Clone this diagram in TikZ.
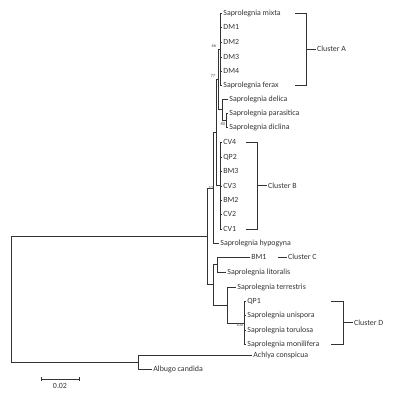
\documentclass[tikz,border=0pt]{standalone}
\usepackage{fontspec}
\setmainfont{Carlito}
\usetikzlibrary{calc}
\definecolor{ink}{HTML}{333333}
\definecolor{txt}{HTML}{333333}
\definecolor{boot}{HTML}{555555}
\tikzset{
  branch/.style={ink,line width=0.9pt},
  leaf/.style={txt,anchor=west,inner sep=1.2pt,font=\fontsize{7.9}{9}\selectfont},
  bootval/.style={boot,anchor=east,inner sep=0.5pt,font=\fontsize{4.6}{5}\selectfont},
  cltag/.style={txt,anchor=west,inner sep=1pt,font=\fontsize{7.9}{9}\selectfont},
}
% bracket round a cluster: top y, bottom y, left x, right x, tag node name, label
\newcommand{\clbracket}[6]{%
  \draw[branch] (#3,#1) -- (#4,#1) -- (#4,#2) -- (#3,#2);
  \node[cltag] (#5) at ($(#4,#1)!0.5!(#4,#2)+(10,0)$) {#6};
  \draw[branch] ($(#4,#1)!0.5!(#4,#2)$) -- (#5.west);}

\begin{document}
\begin{tikzpicture}[x=1pt,y=-1pt]
\useasboundingbox (0,0) rectangle (400,400);

% ---------------------------------------------------------------- internal nodes
\coordinate (root) at (11,299.5);
\coordinate (nOut) at (138,362);
\coordinate (nIn)  at (207,236);
\coordinate (nUp)  at (213,188);
\coordinate (nAB)  at (216,132);
\coordinate (nADel) at (218,79);
\coordinate (nA)   at (220,49);
\coordinate (nDel) at (222,109.5);
\coordinate (nPD)  at (226,120);
\coordinate (nB)   at (220,185.5);
\coordinate (nLow) at (213,284.5);
\coordinate (nC)   at (217,264);
\coordinate (nDT)  at (227,305);
\coordinate (nD)   at (244,323);

% ---------------------------------------------------------------- leaves
\foreach \n/\y/\t in {mixta/13/Saprolegnia mixta,dmA/27/DM1,dmB/42/DM2,dmC/57/DM3,
                      dmD/71/DM4,ferax/85/Saprolegnia ferax}
  {\node[leaf] (\n) at (222,\y) {\t};
   \draw[branch] (nA) |- (\n.west);}
\foreach \n/\y/\t in {cvD/142/CV4,qpB/157/QP2,bmC/171/BM3,cvC/186/CV3,
                      bmB/200/BM2,cvB/214/CV2,cvA/229/CV1}
  {\node[leaf] (\n) at (222,\y) {\t};
   \draw[branch] (nB) |- (\n.west);}
\foreach \n/\y/\t in {qpA/301/QP1,unispora/315/Saprolegnia unispora,
                      torulosa/330/Saprolegnia torulosa,monilifera/344/Saprolegnia monilifera}
  {\node[leaf] (\n) at (246,\y) {\t};
   \draw[branch] (nD) |- (\n.west);}
\node[leaf] (delica) at (228,99) {Saprolegnia delica};
\node[leaf] (parasitica) at (228,113) {Saprolegnia parasitica};
\node[leaf] (diclina) at (228,127) {Saprolegnia diclina};
\node[leaf] (hypogyna) at (219,243) {Saprolegnia hypogyna};
\node[leaf] (bmA) at (250,257) {BM1};
\node[leaf] (litoralis) at (226,272) {Saprolegnia litoralis};
\node[leaf] (terrestris) at (236,287) {Saprolegnia terrestris};
\node[leaf] (achlya) at (252,355) {Achlya conspicua};
\node[leaf] (albugo) at (152,369.5) {Albugo candida};

% ---------------------------------------------------------------- branches
\foreach \p/\c in {nPD/parasitica.west,nPD/diclina.west,nDel/delica.west,nDel/nPD,
                   nADel/nA,nADel/nDel,nAB/nADel,nAB/nB,nUp/nAB,nUp/hypogyna.west,
                   nC/bmA.west,nC/litoralis.west,nDT/terrestris.west,nDT/nD,
                   nLow/nC,nLow/nDT,nIn/nUp,nIn/nLow,
                   nOut/achlya.west,nOut/albugo.west,root/nIn,root/nOut}
  {\draw[branch] (\p) |- (\c);}

% ---------------------------------------------------------------- bootstrap values
\node[bootval] (bsA) at (nA) [xshift=-3pt,yshift=3pt] {66};
\node[bootval] (bsADel) at (nADel) [xshift=-2pt,yshift=3pt] {77};
\node[bootval] (bsPD) at (nPD) [xshift=0pt,yshift=-4pt] {80};
\node[bootval] (bsUp) at (nUp) [xshift=1pt,yshift=0pt] {52};
\node[bootval] (bsD) at (nD) [xshift=0pt,yshift=-2pt] {100};

% ---------------------------------------------------------------- clusters
\clbracket{13}{85}{295}{306}{clA}{Cluster A}
\clbracket{142.5}{229}{246}{257}{clB}{Cluster B}
\clbracket{301}{344}{331}{343}{clD}{Cluster D}
\node[cltag] (clC) at (287,257) {Cluster C};
\draw[branch] (278,257) -- (clC.west);

% ---------------------------------------------------------------- scale bar
\coordinate (sbL) at (41,379);
\coordinate (sbR) at (79,379);
\draw[branch] (sbL) -- (sbR);
\draw[branch] ($(sbL)+(0,-2)$) -- ($(sbL)+(0,2)$);
\draw[branch] ($(sbR)+(0,-2)$) -- ($(sbR)+(0,2)$);
\node[cltag,anchor=north] (sbT) at ($(sbL)!0.5!(sbR)+(0,3)$) {0.02};

\end{tikzpicture}
\end{document}
